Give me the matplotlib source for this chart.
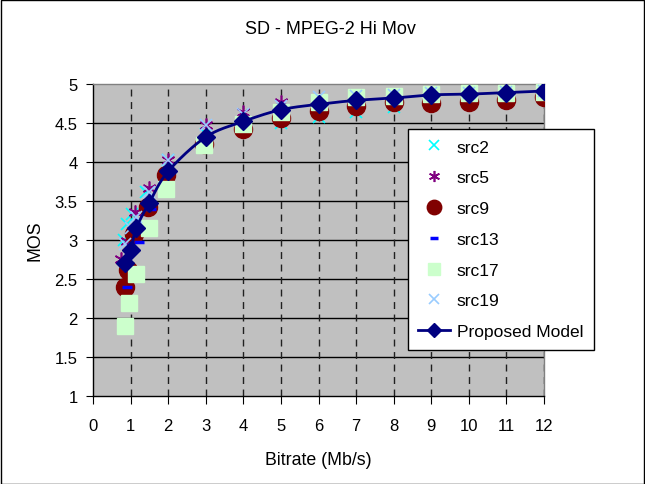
import numpy as np
import matplotlib
matplotlib.use("Agg")
import matplotlib.pyplot as plt
from matplotlib.patches import Rectangle

plt.rcParams['font.family'] = ['Liberation Sans', 'DejaVu Sans']

title = "SD - MPEG-2 Hi Mov"
x_label = "Bitrate (Mb/s)"
y_label = "MOS"
x_ticks = list(range(0, 13))
y_ticks = [1, 1.5, 2, 2.5, 3, 3.5, 4, 4.5, 5]

hi_rates = [4, 5, 6, 7, 8, 9, 10, 11, 12]

src2_x = [0.82, 0.9, 1.04, 1.4, 2.0, 3.0] + hi_rates
src2_y = [3.00, 3.20, 3.33, 3.62, 4.02, 4.36, 4.45, 4.50, 4.58, 4.64, 4.70, 4.74, 4.78, 4.80, 4.84]

src5_x = [0.75, 0.9, 1.13, 1.5, 2.0, 3.0] + hi_rates
src5_y = [2.76, 2.99, 3.36, 3.67, 4.02, 4.47, 4.64, 4.77, 4.80, 4.83, 4.85, 4.88, 4.88, 4.90, 4.92]

src9_x = [0.85, 0.93, 1.08, 1.47, 1.95, 2.95] + hi_rates
src9_y = [2.40, 2.61, 3.08, 3.42, 3.83, 4.23, 4.42, 4.57, 4.66, 4.72, 4.77, 4.76, 4.77, 4.79, 4.83]

src13_x = [0.9, 1.22, 1.55, 2.0, 3.0] + hi_rates
src13_y = [2.40, 2.98, 3.40, 3.86, 4.30, 4.52, 4.73, 4.81, 4.80, 4.84, 4.86, 4.87, 4.88, 4.90]

src17_x = [0.84, 0.97, 1.14, 1.5, 1.95, 2.95] + hi_rates
src17_y = [1.90, 2.19, 2.56, 3.16, 3.66, 4.22, 4.49, 4.64, 4.77, 4.83, 4.84, 4.87, 4.88, 4.88, 4.90]

src19_x = [0.85, 1.0, 1.15, 1.5, 2.0, 3.0] + hi_rates
src19_y = [2.95, 3.15, 3.30, 3.62, 4.03, 4.47, 4.62, 4.72, 4.83, 4.85, 4.86, 4.88, 4.89, 4.90, 4.91]

model_x = [0.85, 1.0, 1.15, 1.5, 2.0, 3.0] + hi_rates
model_y = [2.70, 2.87, 3.15, 3.48, 3.88, 4.32, 4.52, 4.67, 4.74, 4.79, 4.82, 4.86, 4.87, 4.89, 4.91]


def smooth_curve(xs, ys, n=20):
    # Catmull-Rom style smoothing of a polyline (like a spreadsheet "smoothed line")
    p = np.column_stack([xs, ys]).astype(float)
    p = np.vstack([p[0], p, p[-1]])
    out = []
    for i in range(1, len(p) - 2):
        p0, p1, p2, p3 = p[i - 1], p[i], p[i + 1], p[i + 2]
        t = np.linspace(0, 1, n, endpoint=False)[:, None]
        seg = 0.5 * ((2 * p1) + (-p0 + p2) * t + (2 * p0 - 5 * p1 + 4 * p2 - p3) * t ** 2
                     + (-p0 + 3 * p1 - 3 * p2 + p3) * t ** 3)
        out.append(seg)
    out.append(p[-2][None, :])
    out = np.vstack(out)
    return out[:, 0], out[:, 1]


fig = plt.figure(figsize=(6.45, 4.85), dpi=100)
fig.patch.set_facecolor('white')
fig.add_artist(Rectangle((0.001, 0.001), 0.997, 0.997, transform=fig.transFigure,
                         fill=False, edgecolor='black', linewidth=1))

ax = fig.add_axes([93 / 645, 1 - 397 / 485, (544 - 93) / 645, (397 - 85) / 485])
ax.set_facecolor('#C0C0C0')
ax.set_xlim(0, 12)
ax.set_ylim(1, 5)
ax.set_xticks(x_ticks)
ax.set_yticks(y_ticks)
ax.set_yticklabels([f"{v:g}" for v in y_ticks])
ax.tick_params(axis='x', labelsize=12, length=6, color='black', pad=10)
ax.tick_params(axis='y', labelsize=12, length=5, color='black', pad=6)
for name, s in ax.spines.items():
    s.set_linewidth(1)
    s.set_color('black' if name in ('left', 'bottom') else '#808080')

for yv in y_ticks[1:-1]:
    ax.axhline(yv, color='black', linewidth=1, zorder=1)
for xv in x_ticks[1:]:
    ax.axvline(xv, color='#202020', linewidth=1, linestyle=(0, (5, 4)), zorder=1)

ax.plot(src2_x, src2_y, linestyle='none', marker='x', color='#00FFFF', markersize=9,
        markeredgewidth=1.2, label='src2', zorder=3)
ax.plot(src5_x, src5_y, linestyle='none', marker=(6, 2, 0), color='#800080', markersize=10,
        markeredgewidth=1.2, label='src5', zorder=3)
ax.plot(src9_x, src9_y, linestyle='none', marker='o', color='#800000', markersize=13,
        label='src9', zorder=3)
ax.plot(src13_x, src13_y, linestyle='none', marker='_', color='#0000FF', markersize=7,
        markeredgewidth=2.5, label='src13', zorder=3)
ax.plot(src17_x, src17_y, linestyle='none', marker='s', color='#CCFFCC', markersize=11,
        label='src17', zorder=3)
ax.plot(src19_x, src19_y, linestyle='none', marker='x', color='#99CCFF', markersize=9,
        markeredgewidth=1.2, label='src19', zorder=3)

sx, sy = smooth_curve(model_x, model_y)
ax.plot(sx, sy, color='#000080', linewidth=2, zorder=4)
ax.plot(model_x, model_y, linestyle='none', marker='D', color='#000080', markersize=9,
        zorder=5)
model_handle = plt.Line2D([], [], color='#000080', linewidth=2, marker='D', markersize=9)

handles, labels = ax.get_legend_handles_labels()
handles.append(model_handle)
labels.append('Proposed Model')
leg = fig.legend(handles, labels, loc='upper left', bbox_to_anchor=(408 / 645, 1 - 130 / 485),
                 fontsize=12.5, frameon=True, fancybox=False, edgecolor='black',
                 framealpha=1, labelspacing=0.9, handlelength=1.8, borderpad=0.6,
                 handletextpad=0.4, borderaxespad=0, markerscale=0.8)
leg.get_frame().set_linewidth(1)

fig.text(330 / 645, 1 - 30 / 485, title, ha='center', va='center', fontsize=13)
ax.set_xlabel(x_label, fontsize=12.8, labelpad=13)
ax.set_ylabel(y_label, fontsize=12.8, labelpad=8)

fig.savefig('out.png', dpi=100)
